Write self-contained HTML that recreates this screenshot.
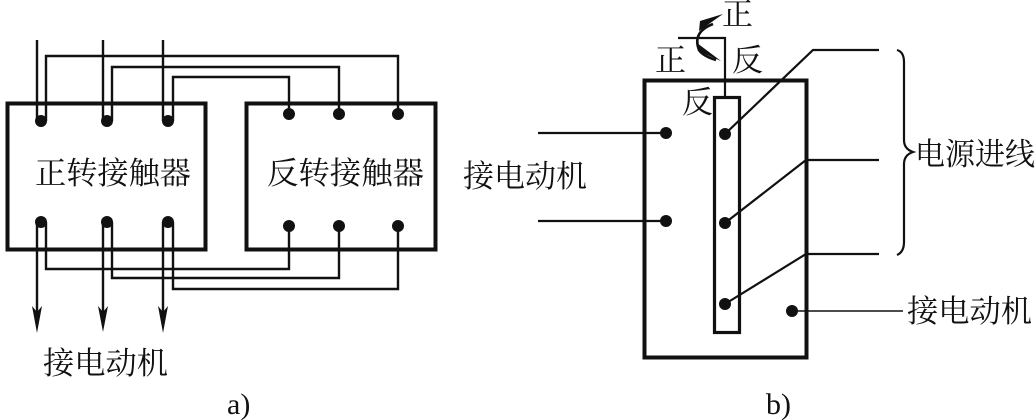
<!DOCTYPE html>
<html><head><meta charset="utf-8"><style>
html,body{margin:0;padding:0;background:#fff}
svg{display:block}
text{font-family:"Liberation Serif","Noto Serif CJK SC",serif;fill:#111}
</style></head><body>
<svg width="1035" height="420" viewBox="0 0 1035 420" xmlns="http://www.w3.org/2000/svg">
<g fill="none" stroke="#111">
<rect x="7.5" y="103.5" width="198" height="146" stroke-width="4"/>
<rect x="246.5" y="103.5" width="189" height="146" stroke-width="4"/>
<g stroke-width="2.4">
<path d="M37 40V121M103 40V121M163 40V121"/>
<path d="M37 222V325M103 222V325M163 222V325"/>
<path d="M46 121V56H398V114"/>
<path d="M112 121V67H339V114"/>
<path d="M173 121V77H289V114"/>
<path d="M46 222V269H289V226"/>
<path d="M112 222V278H339V226"/>
<path d="M173 222V289H398V226"/>
</g>
<rect x="644.5" y="80.5" width="162" height="277" stroke-width="4"/>
<rect x="714.5" y="97.5" width="25" height="235" stroke-width="3.2"/>
<g stroke-width="2.2">
<path d="M725 97V38H678"/>
<path d="M538 133H666M538 221H666"/>
<path d="M725 134L813 50H879"/>
<path d="M725 223L806 160H879"/>
<path d="M725 304L806 254H879"/>
<path d="M792 311H903" stroke-width="1.6"/>
<path d="M897 50Q904 52 904 62V140Q904 149 913 152Q904 155 904 164V242Q904 252 897 255"/>
<path d="M713 24Q692 32 699 50Q703 56 716 60" stroke-width="2.6"/>
</g>
</g>
<g fill="#111">
<circle cx="41" cy="121" r="6"/><circle cx="107" cy="121" r="6"/><circle cx="168" cy="121" r="6"/>
<circle cx="41" cy="222" r="6"/><circle cx="107" cy="222" r="6"/><circle cx="168" cy="222" r="6"/>
<circle cx="289" cy="114" r="6"/><circle cx="339" cy="114" r="6"/><circle cx="398" cy="114" r="6"/>
<circle cx="289" cy="226" r="6"/><circle cx="339" cy="226" r="6"/><circle cx="398" cy="226" r="6"/>
<circle cx="666" cy="133" r="6"/><circle cx="666" cy="221" r="6"/>
<circle cx="725" cy="134" r="6"/><circle cx="725" cy="223" r="6"/><circle cx="725" cy="304" r="6"/>
<circle cx="792" cy="311" r="6"/>
<path d="M32 306L37 312L42 306L37 333Z"/>
<path d="M98 306L103 312L108 306L103 332Z"/>
<path d="M158 306L163 312L168 306L163 333Z"/>
<path d="M723 14L700 21L699 31Z"/>
<path d="M721 61L697 43L698 51Z"/>
</g>
<g font-size="31">
<text x="35" y="184" textLength="156" lengthAdjust="spacingAndGlyphs">正转接触器</text>
<text x="267" y="184" textLength="157" lengthAdjust="spacingAndGlyphs">反转接触器</text>
<text x="43" y="374" textLength="125" lengthAdjust="spacingAndGlyphs">接电动机</text>
<text x="463" y="187" textLength="124" lengthAdjust="spacingAndGlyphs">接电动机</text>
<text x="907" y="322" textLength="125" lengthAdjust="spacingAndGlyphs">接电动机</text>
<text x="915" y="165" textLength="120" lengthAdjust="spacingAndGlyphs">电源进线</text>
<text x="722" y="25">正</text>
<text x="655" y="71">正</text>
<text x="732" y="71">反</text>
<text x="682" y="113">反</text>
</g>
<g font-size="30">
<text x="227" y="414">a)</text>
<text x="766" y="414">b)</text>
</g>
</svg>
</body></html>
